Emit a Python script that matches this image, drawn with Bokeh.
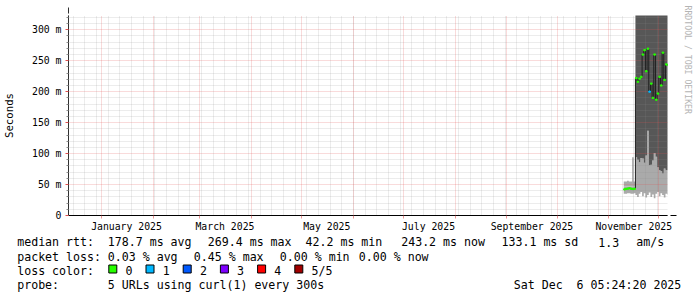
import numpy as np
from math import pi
from bokeh.plotting import figure
from bokeh.layouts import column, row
from bokeh.models import (Range1d, FixedTicker, Grid, Arrow, NormalHead, DatetimeTickFormatter)
from bokeh.core.properties import value
from bokeh.embed import file_html
from bokeh.resources import INLINE

# ---------------- data (round-trip times in milliseconds) ----------------
graph_end = "2025-12-06T05:24:20"
graph_span_days = 359
first_day = "2025-11-10"          # daily bins from here on

median_rtt = [42.2, 43.0, 43.5, 44.0, 43.2, 42.8, 43.1,
              222, 216, 221, 224, 260, 267, 233, 269.4, 200, 213, 190, 260,
              187, 197, 224, 210, 263, 219, 244, 243.2]
loss_count = [0, 0, 0, 0, 0, 0, 0,
              0, 0, 0, 0, 0, 0, 0, 0, 1, 0, 0, 0,
              0, 0, 0, 0, 0, 0, 0, 0]
ping_min = [35, 35, 36, 36, 35, 35, 36,
            33, 30, 35, 38, 31, 36, 29, 33, 37, 30, 34, 28,
            35, 38, 31, 36, 33, 29, 35, 34]
ping_2nd = [47, 47, 47, 47, 47, 47, 47,
            94, 90, 86, 93, 92, 85, 97, 137, 81, 82, 89, 101,
            95, 78, 73, 72, 68, 76, 73, 73]
ping_4th = [47, 47, 47, 47, 47, 47, 47,
            360, 380, 350, 370, 390, 400, 365, 410, 380, 355, 370, 395,
            360, 375, 385, 365, 400, 370, 380, 375]
ping_max = [55, 55, 56, 55, 55, 94, 55,
            450, 460, 440, 470, 480, 490, 455, 500, 470, 445, 460, 485,
            450, 465, 475, 455, 490, 460, 470, 465]

y_ticks = [0, 50, 100, 150, 200, 250, 300]
y_tick_labels = ["0", "50 m", "100 m", "150 m", "200 m", "250 m", "300 m"]
y_max = 323
x_label_months = ["2025-01-01", "2025-03-01", "2025-05-01", "2025-07-01", "2025-09-01", "2025-11-01"]
x_tick_labels = ["January 2025", "March 2025", "May 2025", "July 2025", "September 2025", "November 2025"]

loss_colors = ["#26ff00", "#00b8ff", "#0059ff", "#7e00ff", "#ff0000", "#a10000"]
loss_names = ["0", "1", "2", "3", "4", "5/5"]

rtt_stats = ["178.7 ms avg", "269.4 ms max", "42.2 ms min", "243.2 ms now", "133.1 ms sd", "1.3", "am/s"]
loss_stats = ["0.03 % avg", "0.45 % max", "0.00 % min", "0.00 % now"]
probe_text = "5 URLs using curl(1) every 300s"
stamp_text = "Sat Dec  6 05:24:20 2025"
watermark = "RRDTOOL / TOBI OETIKER"

# ---------------- helpers ----------------
EPOCH = np.datetime64("1970-01-01T00:00:00", "ms")
def to_ms(t):
    return float((np.datetime64(t, "ms") - EPOCH) / np.timedelta64(1, "ms"))

DAY = 86400000.0
t_end = to_ms(graph_end)
t_start = t_end - graph_span_days * DAY
n = len(median_rtt)
bin_start = [to_ms(first_day) + i * DAY for i in range(n)]
edges = bin_start + [bin_start[-1] + DAY]

def ext(a):
    return list(a) + [a[-1]]

def keep_spaces(s):   # SVG collapses runs of spaces
    return s.replace("  ", " \u00a0")

def no_frame_align(fig):
    try:
        fig.frame_align = False
    except Exception:
        pass

# ---------------- geometry ----------------
W, H = 697, 297
LEFT, TOP, FW, FH = 67, 15, 599, 200
MAIN_W, MAIN_H = 676, 235
MONO = "DejaVu Sans Mono"

p = figure(width=MAIN_W, height=MAIN_H, frame_width=FW, frame_height=FH,
           min_border_left=LEFT, min_border_right=MAIN_W - LEFT - FW,
           min_border_top=TOP, min_border_bottom=MAIN_H - TOP - FH,
           x_axis_type="datetime", output_backend="svg", toolbar_location=None,
           x_range=Range1d(t_start, t_end), y_range=Range1d(0, y_max))
p.outline_line_color = None
p.background_fill_color = "white"
p.border_fill_color = "white"
p.xgrid.visible = False
p.ygrid.visible = False
no_frame_align(p)

# smoke
light, dark = "#aaaaaa", "#575757"
r1 = p.varea_step(x=edges, y1=ext(ping_min), y2=ext(ping_2nd), step_mode="after", fill_color=light)
r2 = p.varea_step(x=edges, y1=ext(ping_2nd), y2=ext(ping_4th), step_mode="after", fill_color=dark)
r3 = p.varea_step(x=edges, y1=ext(ping_4th), y2=ext(ping_max), step_mode="after", fill_color=light)
for r in (r1, r2, r3):
    r.level = "image"

# grid (drawn over the smoke)
month_starts = [to_ms(str(m)) for m in np.arange(np.datetime64("2024-12"), np.datetime64("2026-01"), 1).astype("datetime64[D]")]
sundays = [to_ms(str(d)) for d in np.arange(np.datetime64("2024-12-08"), np.datetime64("2025-12-10"), 7)]
y_minor = [v for v in range(10, 330, 10) if v % 50]
minor_col, major_col = "#8f8f8f", "#e05050"
for dim, ticks, col, alpha in ((0, sundays, minor_col, 0.33), (1, y_minor, minor_col, 0.33),
                               (0, month_starts, major_col, 0.42), (1, y_ticks[1:], major_col, 0.42)):
    g = Grid(dimension=dim, ticker=FixedTicker(ticks=ticks), grid_line_color=col,
             grid_line_alpha=alpha, grid_line_dash="1 1", level="underlay")
    p.add_layout(g)

# median line and loss-coloured median marks
p.step(x=edges, y=ext(median_rtt), mode="after", line_color="#202020", line_width=1)
sw = 1.0
p.quad(left=bin_start, right=edges[1:],
       bottom=[m - sw for m in median_rtt], top=[m + sw for m in median_rtt],
       fill_color=[loss_colors[l] for l in loss_count],
       line_color=[loss_colors[l] for l in loss_count], line_width=1)

# axes
label_ticks = [to_ms(m) + 15 * DAY for m in x_label_months]
xa = p.xaxis[0]
xa.ticker = FixedTicker(ticks=label_ticks, minor_ticks=month_starts)
xa.formatter = DatetimeTickFormatter(months="%B %Y", days="%B %Y")
xa.major_label_overrides = {t: s for t, s in zip(label_ticks, x_tick_labels)}
xa.major_tick_out = 0
xa.major_tick_in = 0
xa.minor_tick_out = 3
xa.minor_tick_in = 0
xa.minor_tick_line_color = major_col
xa.minor_tick_line_alpha = 0.6
xa.major_label_standoff = 2
xa.axis_line_color = "#000000"

ya = p.yaxis[0]
ya.ticker = FixedTicker(ticks=y_ticks, minor_ticks=y_minor)
ya.major_label_overrides = {t: s for t, s in zip(y_ticks, y_tick_labels)}
ya.major_tick_out = 3
ya.major_tick_in = 0
ya.minor_tick_out = 2
ya.minor_tick_in = 0
ya.major_tick_line_color = major_col
ya.minor_tick_line_color = minor_col
ya.major_label_standoff = 4
ya.axis_line_color = "#303030"
ya.axis_label = "Seconds"
ya.axis_label_text_font = MONO
ya.axis_label_text_font_size = "10.7px"
ya.axis_label_text_font_style = "normal"
ya.axis_label_text_color = "#000000"
ya.axis_label_standoff = 13

for ax in (xa, ya):
    ax.major_label_text_font = MONO
    ax.major_label_text_font_size = "9.8px"
    ax.major_label_text_color = "#000000"

# arrows at the axis ends (screen units, relative to the frame)
arrow_col = "#800000"
p.add_layout(Arrow(x_start=0, y_start=FH - 1, x_end=0, y_end=FH + 8,
                   start_units="screen", end_units="screen", line_color="#303030", line_width=1,
                   end=NormalHead(size=6, fill_color=arrow_col, line_color=arrow_col)))
p.add_layout(Arrow(x_start=FW - 1, y_start=0, x_end=FW + 9, y_end=0,
                   start_units="screen", end_units="screen", line_color="#000000", line_width=1,
                   end=NormalHead(size=6, fill_color=arrow_col, line_color=arrow_col)))

# ---------------- watermark strip (right of the plot) ----------------
WM_W = W - MAIN_W
wm = figure(width=WM_W, height=MAIN_H, min_border=0, output_backend="svg", toolbar_location=None,
            x_range=Range1d(0, WM_W), y_range=Range1d(0, MAIN_H),
            x_axis_location=None, y_axis_location=None)
wm.outline_line_color = None
wm.grid.visible = False
no_frame_align(wm)
wm.text(x=[686.5 - MAIN_W], y=[MAIN_H - 5], text=[watermark], angle=-pi / 2,
        text_font=value(MONO), text_font_size=value("8.2px"), text_color="#b4b4b4",
        text_align="left", text_baseline="middle")

# ---------------- legend strip (below the plot) ----------------
LEG_H = H - MAIN_H
lg = figure(width=W, height=LEG_H, min_border=0, output_backend="svg", toolbar_location=None,
            x_range=Range1d(0, W), y_range=Range1d(0, LEG_H),
            x_axis_location=None, y_axis_location=None)
lg.outline_line_color = None
lg.grid.visible = False
no_frame_align(lg)

def ly(cy):          # page y (from top) -> legend strip y
    return H - cy

rows = [241.6, 256.0, 270.4, 284.8]
tx, ty, tt = [], [], []
def add(cx, cy, s):
    tx.append(cx); ty.append(ly(cy)); tt.append(keep_spaces(s))

add(16.7, rows[0], "median rtt:")
for s, cx in zip(rtt_stats, [107.3, 207.3, 305.0, 400.7, 501.0, 597.7, 635.7]):
    add(cx, rows[0], s)
add(16.7, rows[1], "packet loss:")
for s, cx in zip(loss_stats, [107.3, 193.3, 279.3, 358.3]):
    add(cx, rows[1], s)
add(16.7, rows[2], "loss color:")
sq_l = [108.3 + i * 37.2 for i in range(len(loss_colors))]
for bx, s in zip(sq_l, loss_names):
    add(bx + 16.7, rows[2], s)
add(16.7, rows[3], "probe:")
add(107.3, rows[3], probe_text)
add(513.3, rows[3], stamp_text)

lg.text(x=tx, y=ty, text=tt, text_font=value(MONO), text_font_size=value("11.6px"),
        text_color="#000000", text_align="left", text_baseline="alphabetic")
lg.quad(left=sq_l, right=[b + 8 for b in sq_l], top=[ly(264.5)] * len(sq_l),
        bottom=[ly(272.5)] * len(sq_l), fill_color=loss_colors, line_color="#000000", line_width=1)

layout = column(row(p, wm, spacing=0), lg, spacing=0)
open("out.html", "w").write(file_html(layout, INLINE))
